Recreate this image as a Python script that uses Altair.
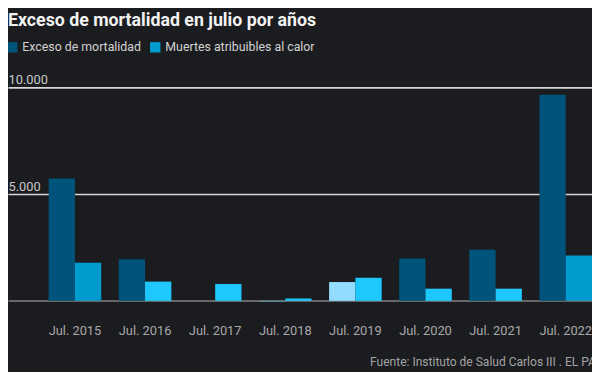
import altair as alt
import pandas as pd

years = ["Jul. 2015", "Jul. 2016", "Jul. 2017", "Jul. 2018",
         "Jul. 2019", "Jul. 2020", "Jul. 2021", "Jul. 2022"]
exceso = [5730, 1950, 0, -50, 880, 1980, 2390, 9660]
calor = [1780, 900, 790, 110, 1080, 570, 570, 2120]
series = ["Exceso de mortalidad", "Muertes atribuibles al calor"]

rows = []
for i, y in enumerate(years):
    rows.append({"year": y, "serie": series[0], "value": exceso[i]})
    rows.append({"year": y, "serie": series[1], "value": calor[i]})
df = pd.DataFrame(rows)

BG = "#1b1c1f"
FONT = "Roboto"

x_enc = alt.X("year:N", sort=years,
              scale=alt.Scale(paddingInner=0.25, paddingOuter=0.29, align=1),
              axis=alt.Axis(title="Fuente: Instituto de Salud Carlos III . EL PAÍS",
                            labelAngle=0, ticks=False, domain=False, grid=False,
                            labelPadding=15, labelFontSize=13, labelColor="#a9a9a9",
                            labelFont=FONT, titleFont=FONT, titleFontSize=12.2,
                            titleFontWeight="normal", titleColor="#a3a3a3",
                            titleAnchor="end", titleAlign="right", titleX=606,
                            titlePadding=19))

y_scale = alt.Scale(domain=[-400, 10000], nice=False)

bars = alt.Chart(df).mark_bar().encode(
    x=x_enc,
    xOffset=alt.XOffset("serie:N", sort=series,
                        scale=alt.Scale(paddingInner=0, paddingOuter=0)),
    y=alt.Y("value:Q", scale=y_scale,
            axis=alt.Axis(values=[0, 5000, 10000], title=None, ticks=False,
                          domain=False, grid=True, labelAlign="left", labelPadding=0,
                          labelBaseline="alphabetic", labelOffset=-4,
                          labelFontSize=13, labelColor="#c9c9c9", labelFont=FONT,
                          labelExpr="datum.value == 0 ? '' : replace(datum.label, ',', '.')",
                          gridColor=alt.condition("datum.value == 0", alt.value("#808080"), alt.value("#d6d6d6")),
                          gridWidth=1.6)),
    fill=alt.Fill("serie:N", sort=series,
                  scale=alt.Scale(domain=series, range=["#00537a", "#009ccf"]),
                  legend=alt.Legend(title=None, orient="none", legendX=-2, legendY=-47,
                                    direction="horizontal", symbolType="square",
                                    symbolSize=110, symbolStrokeWidth=0,
                                    symbolOpacity=1,
                                    labelFontSize=12.5, labelColor="#d2d2d2",
                                    labelFont=FONT, labelOffset=4, columnPadding=8),
                  condition=[
                      {"test": "datum.serie == 'Exceso de mortalidad' && datum.value < 0", "value": "#5f8797"},
                      {"test": "datum.serie == 'Exceso de mortalidad' && datum.value < 1500", "value": "#92dcff"},
                      {"test": "datum.serie == 'Muertes atribuibles al calor' && datum.value < 1500", "value": "#1ec8ff"},
                  ]),
)

chart = bars.properties(
    width=592, height=225,
    padding={"left": 0, "right": 0, "top": 78, "bottom": 61},
    autosize=alt.AutoSizeParams(type="none"),
    background=BG,
    title=alt.TitleParams("Exceso de mortalidad en julio por años", anchor="start",
                          frame="group", fontSize=18, font=FONT, fontWeight=700,
                          color="#f2f2f2", offset=11),
).configure_view(stroke=None)

chart.save("out.html", embed_options={"renderer": "svg", "actions": False})
